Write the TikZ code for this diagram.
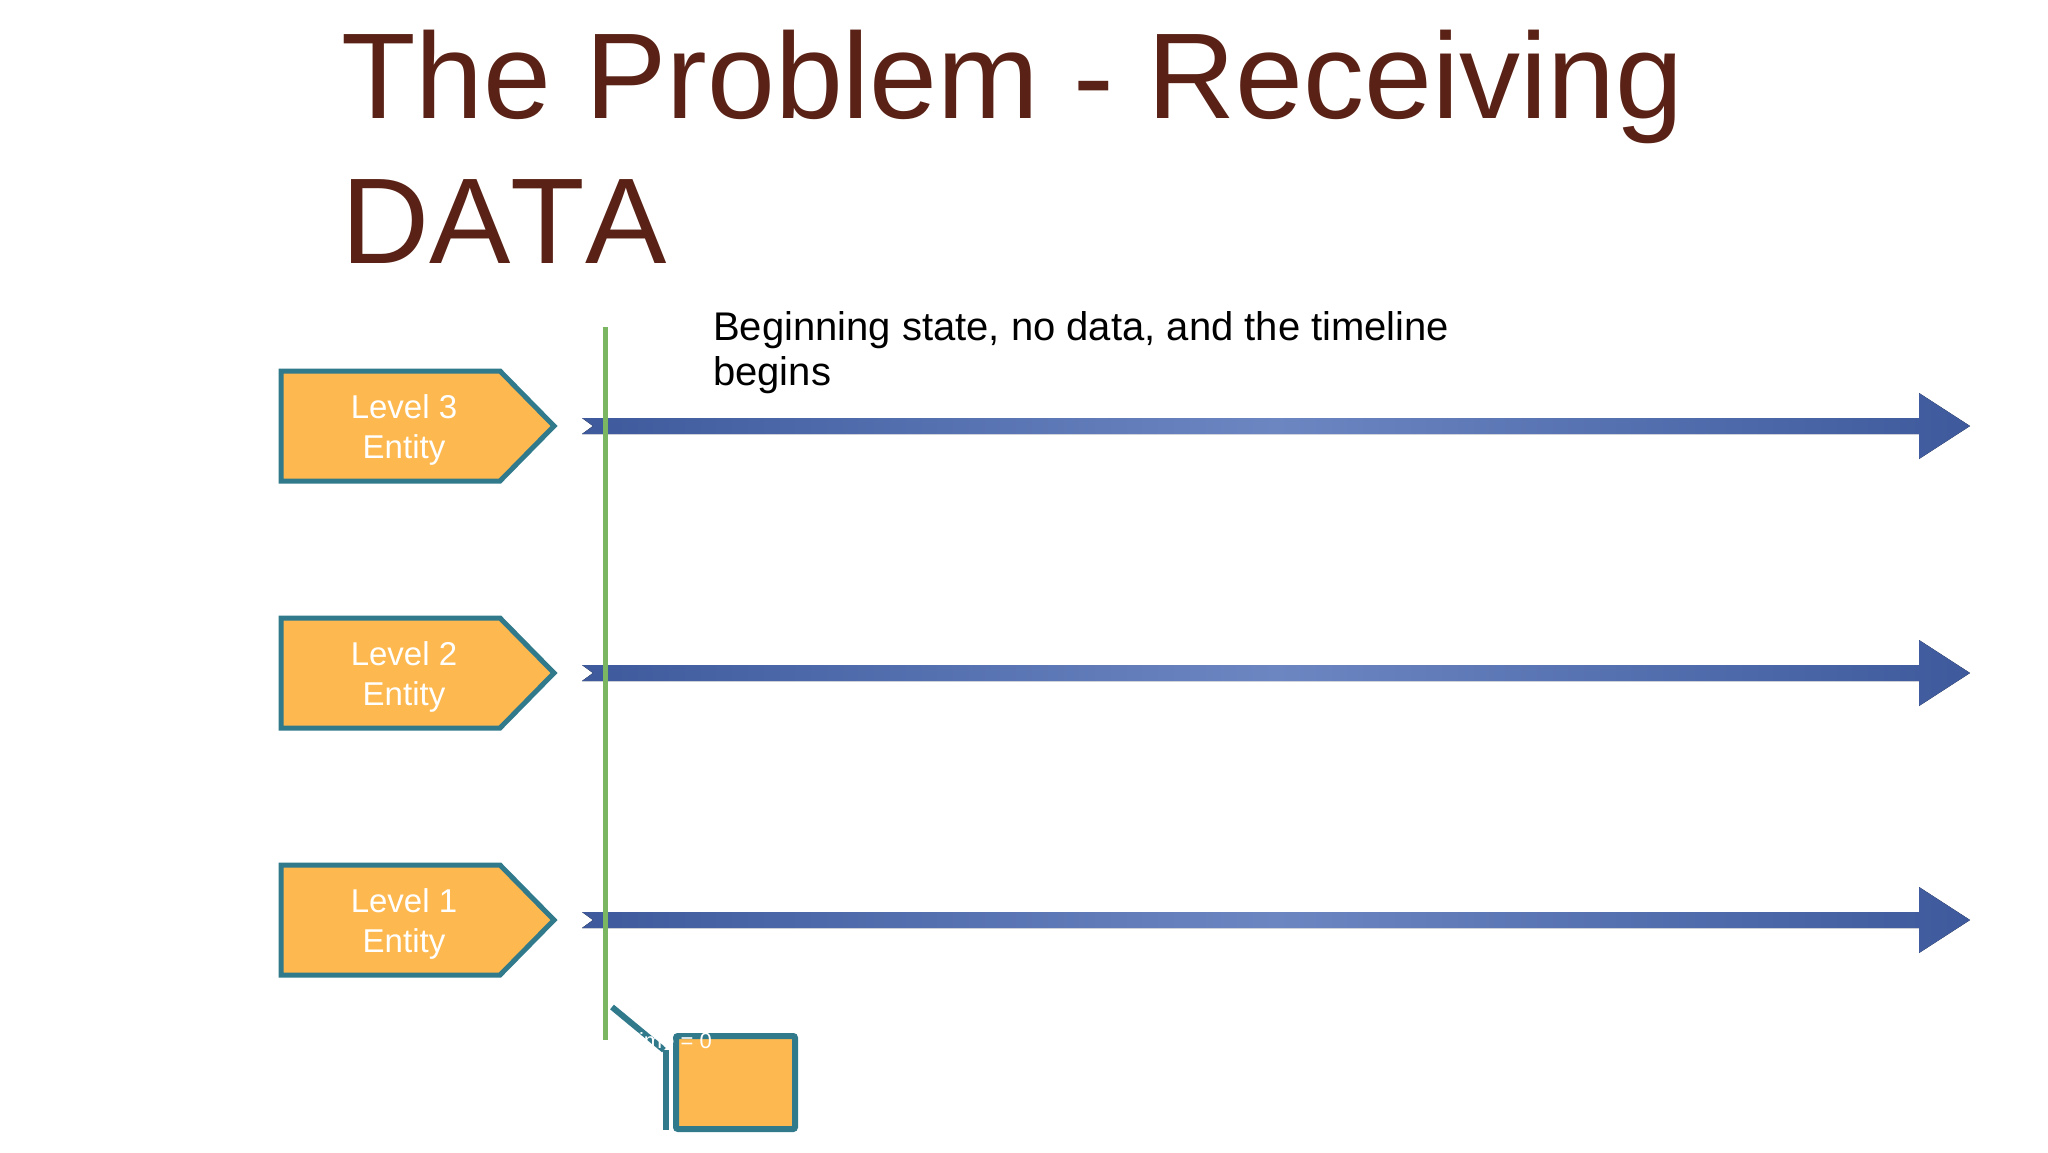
\documentclass[tikz,border=0pt]{standalone}
\usepackage{fontspec}
\setmainfont{Liberation Sans}
\definecolor{titlebrown}{HTML}{5A2216}
\definecolor{entorange}{HTML}{FDB950}
\definecolor{entteal}{HTML}{317A8C}
\definecolor{arrdark}{HTML}{3E5A9C}
\definecolor{arrlight}{HTML}{6C86C2}
\definecolor{tlgreen}{HTML}{7BB662}
\tikzset{
  entbox/.style={fill=entorange, draw=entteal, line width=5pt, line join=miter},
  enttext/.style={text=white, align=center, inner sep=0pt, font=\fontsize{33}{40}\selectfont},
  tline/.style={left color=arrdark, right color=arrdark, middle color=arrlight, shading angle=90},
  titletext/.style={text=titlebrown, inner sep=0pt, anchor=base west, font=\fontsize{122}{145}\selectfont\addfontfeatures{Kerning=Off}},
  notetext/.style={text=black, inner sep=0pt, anchor=base west, font=\fontsize{40}{45}\selectfont},
  greenline/.style={draw=tlgreen, line width=5pt},
  tealline/.style={draw=entteal, line width=6pt}
}
\begin{document}
\begin{tikzpicture}[x=1pt,y=-1pt]
\useasboundingbox[fill=white] (0,0) rectangle (2048,1152);
% title
\node[titletext] (title1) at (341,118) {The Problem - Receiving};
\node[titletext] (title2) at (341,263) {DATA};
% note
\node[notetext] (note1) at (713,340) {Beginning state, no data, and the timeline};
\node[notetext] (note2) at (713,385) {begins};
% timelines
\foreach \c/\n in {426/3,673/2,920/1}{
  \fill[tline] (582,\c-8) -- (1919,\c-8) -- (1919,\c-33) -- (1970,\c) -- (1919,\c+33) -- (1919,\c+8) -- (582,\c+8) -- (593,\c) -- cycle;
  \coordinate (start\n) at (582,\c);
  \coordinate (end\n) at (1970,\c);
  \path[entbox] (281,\c-55) -- (500,\c-55) -- (554,\c) -- (500,\c+55) -- (281,\c+55) -- cycle;
  \node[enttext] (ent\n) at (404,\c+4) {Level \n\\Entity};
}
% green time marker
\coordinate (gtop) at (605,327);
\coordinate (gbot) at (605,1040);
\draw[greenline] (gtop) -- (gbot);
% bottom fragment
\coordinate (d1) at (612,1007);
\coordinate (d2) at (664,1050);
\coordinate (d3) at (666,1130);
\draw[tealline] (d1) -- (d2);
\draw[tealline] (666,1050) -- (d3);
\node[fill=entorange, draw=entteal, line width=6pt, rounded corners=2pt, minimum width=119pt, minimum height=93pt, inner sep=0pt, anchor=north west] (box0) at (673,1033) {};
\node[text=white, inner sep=0pt, anchor=base east, font=\fontsize{22}{26}\selectfont] (t0) at (712,1048) {Time = 0};
\end{tikzpicture}
\end{document}
